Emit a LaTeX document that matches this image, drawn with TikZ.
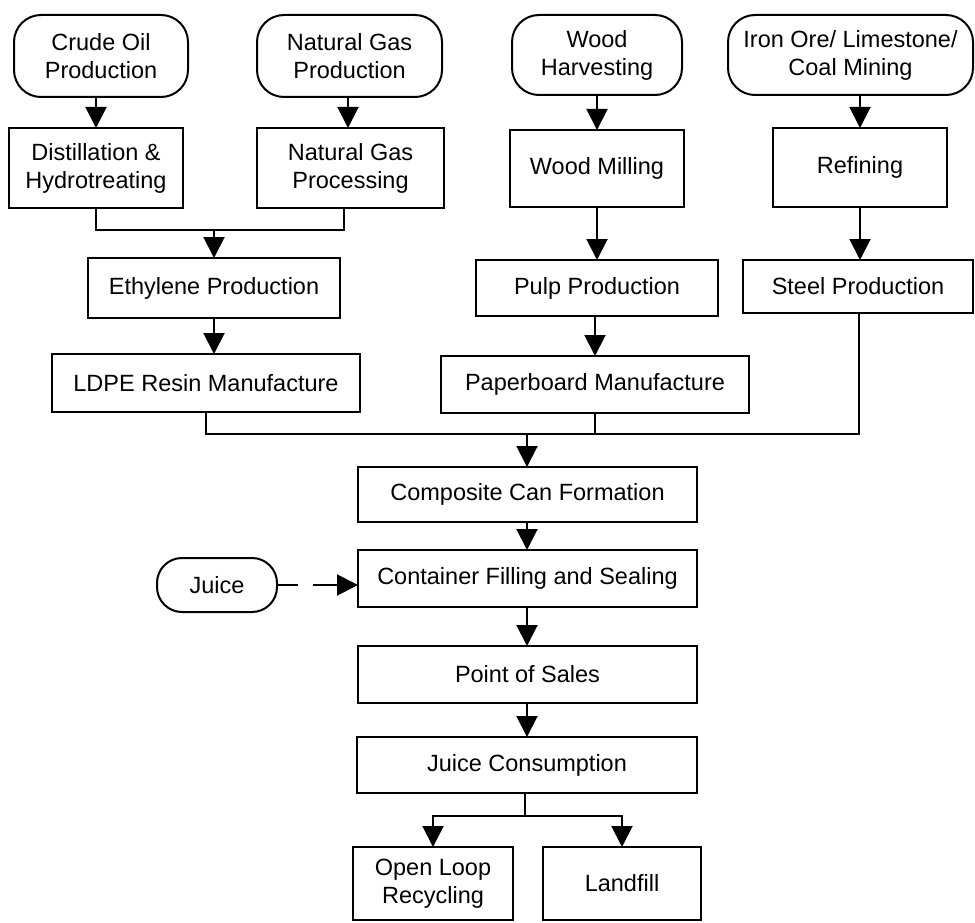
\documentclass[tikz,border=0pt]{standalone}
\usepackage{fontspec}
\setmainfont{Liberation Sans}
\usetikzlibrary{arrows.meta,calc}
\begin{document}
\begin{tikzpicture}[x=1pt,y=-1pt,
  every node/.style={font=\fontsize{23.5}{28}\selectfont, align=center, inner sep=0pt, outer sep=0pt},
  proc/.style={draw, line width=2pt, rectangle},
  term/.style={draw, line width=2pt, rectangle, rounded corners=27pt},
  link/.style={line width=2pt},
  flow/.style={line width=2pt, -{Triangle[width=21pt,length=21pt]}},
  dashflow/.style={flow, dash pattern=on 21pt off 15pt on 80pt}
]
\useasboundingbox (0,0) rectangle (975,923);

% raw material sources
\node[term, minimum width=174pt, minimum height=82pt] (crude) at (101,56) {Crude Oil\\Production};
\node[term, minimum width=185pt, minimum height=82pt] (ngprod) at (349.5,56) {Natural Gas\\Production};
\node[term, minimum width=170pt, minimum height=80pt] (wood) at (597,55) {Wood\\Harvesting};
\node[term, minimum width=245pt, minimum height=80pt] (iron) at (850.5,55) {Iron Ore/ Limestone/\\Coal Mining};

% primary processing
\node[proc, minimum width=174pt, minimum height=80pt] (distil) at (96,168) {Distillation \&\\Hydrotreating};
\node[proc, minimum width=187pt, minimum height=80pt] (ngproc) at (350.5,168) {Natural Gas\\Processing};
\node[proc, minimum width=174pt, minimum height=77pt] (milling) at (597,168.5) {Wood Milling};
\node[proc, minimum width=174pt, minimum height=79pt] (refining) at (860,167.5) {Refining};

% intermediate materials
\node[proc, minimum width=252pt, minimum height=60pt] (ethylene) at (214,288) {Ethylene Production};
\node[proc, minimum width=242pt, minimum height=56pt] (pulp) at (597,288) {Pulp Production};
\node[proc, minimum width=230pt, minimum height=53pt] (steel) at (858,286.5) {Steel Production};

\node[proc, minimum width=308pt, minimum height=58pt] (ldpe) at (206,383) {LDPE Resin Manufacture};
\node[proc, minimum width=308pt, minimum height=57pt] (paper) at (595,384.5) {Paperboard Manufacture};

% container life cycle
\node[proc, minimum width=339pt, minimum height=55pt] (composite) at (527.5,494.5) {Composite Can Formation};
\node[proc, minimum width=339pt, minimum height=57pt] (container) at (527.5,578.5) {Container Filling and Sealing};
\node[term, rounded corners=25pt, minimum width=120pt, minimum height=54pt] (juice) at (217,585) {Juice};
\node[proc, minimum width=339pt, minimum height=57pt] (pos) at (527.5,674.5) {Point of Sales};
\node[proc, minimum width=340pt, minimum height=56pt] (consume) at (527,765) {Juice Consumption};
\node[proc, minimum width=160pt, minimum height=73pt] (openloop) at (433,883.5) {Open Loop\\Recycling};
\node[proc, minimum width=158pt, minimum height=73pt] (landfill) at (622,883.5) {Landfill};

% routing columns and junction points
\coordinate (ngx) at (348,0);
\coordinate (ngy) at (344,0);
\coordinate (stx) at (859,0);
\coordinate (j1) at (214,230);
\coordinate (j2) at (527,434);
\coordinate (j3) at (525,816);

% sources to processing
\draw[flow] (crude.south -| distil.north) -- (distil.north);
\draw[flow] (ngprod.south -| ngx) -- (ngproc.north -| ngx);
\draw[flow] (wood.south) -- (wood.south |- milling.north);
\draw[flow] (iron.south -| refining.north) -- (refining.north);

% crude and gas streams merge into ethylene
\draw[link] (distil.south) |- (j1) -| (ngproc.south -| ngy);
\draw[flow] (j1) -- (ethylene.north);
\draw[flow] (milling.south) -- (milling.south |- pulp.north);
\draw[flow] (refining.south) -- (refining.south |- steel.north);
\draw[flow] (ethylene.south) -- (ethylene.south |- ldpe.north);
\draw[flow] (pulp.south -| paper.north) -- (paper.north);

% materials merge into can formation
\draw[link] (ldpe.south) |- (j2);
\draw[link] (paper.south) -- (paper.south |- j2);
\draw[link] (steel.south -| stx) |- (j2);
\draw[flow] (j2) -- (composite.north -| j2);

% filling, sale and end of life
\draw[flow] (composite.south -| j2) -- (container.north -| j2);
\draw[dashflow] (juice.east) -- (juice.east -| container.west);
\draw[flow] (container.south -| j2) -- (pos.north -| j2);
\draw[flow] (pos.south -| j2) -- (consume.north -| j2);
\draw[link] (consume.south -| j3) -- (j3);
\draw[flow] (j3) -| (openloop.north);
\draw[flow] (j3) -| (landfill.north);
\end{tikzpicture}
\end{document}
